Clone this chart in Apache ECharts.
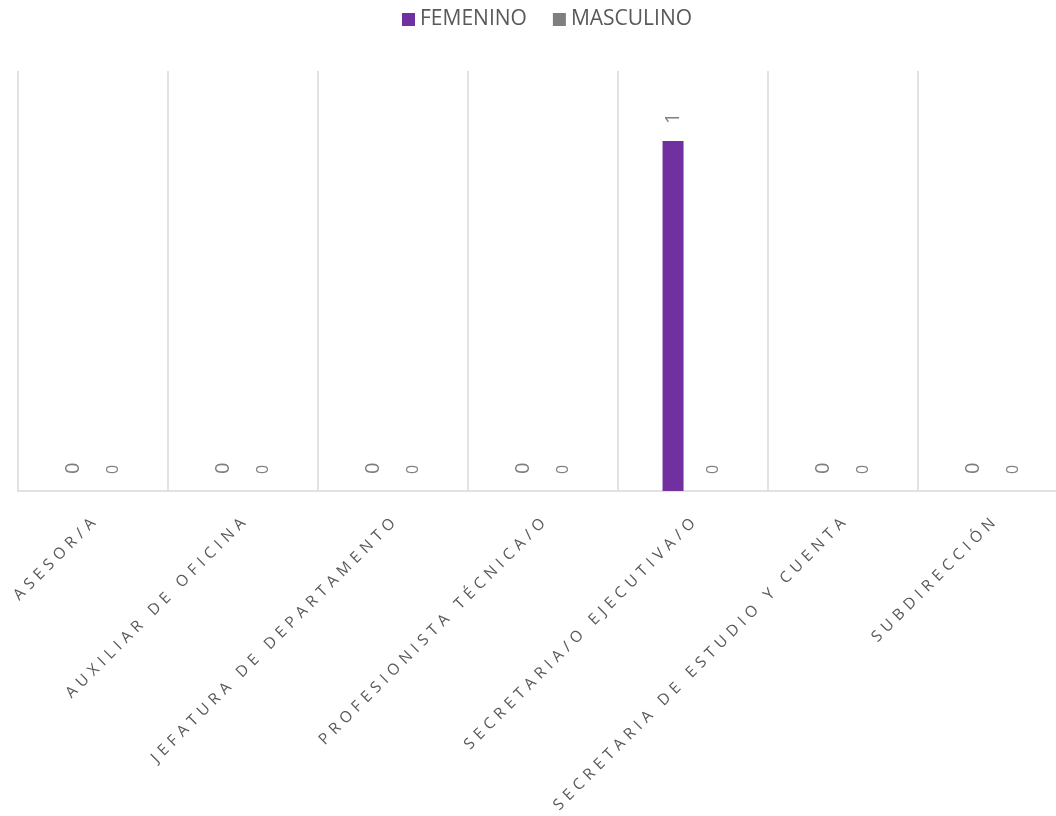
<!DOCTYPE html>
<html><head><meta charset="utf-8">
<script src="https://cdn.jsdelivr.net/npm/echarts@6/dist/echarts.min.js"></script>
<style>html,body{margin:0;padding:0;background:#fff;overflow:hidden}#c{width:1068px;height:816px}</style>
</head><body><div id="c"></div>
<script>
const categories = ['ASESOR/A','AUXILIAR DE OFICINA','JEFATURA DE DEPARTAMENTO','PROFESIONISTA TÉCNICA/O','SECRETARIA/O EJECUTIVA/O','SECRETARIA DE ESTUDIO Y CUENTA','SUBDIRECCIÓN'];
const femenino = [0,0,0,0,1,0,0];
const masculino = [0,0,0,0,0,0,0];
const seriesNames = ['FEMENINO','MASCULINO'];

const chart = echarts.init(document.getElementById('c'));
function lbl(size){
  return {show:true, position:'top', rotate:90, align:'left', verticalAlign:'middle', distance:17,
    color:'#7f7f7f', fontSize:size, fontFamily:'Open Sans'};
}
chart.setOption({
  animation:false,
  textStyle:{fontFamily:'Open Sans'},
  legend:{top:4, left:397, itemWidth:13, itemHeight:13, itemGap:26, icon:'rect',
    textStyle:{color:'#595959', fontSize:21, fontFamily:'Open Sans'}, data:seriesNames},
  grid:{left:18, right:0, top:71, bottom:325, containLabel:false},
  xAxis:{type:'category', data:categories, boundaryGap:true,
    axisLine:{show:true, lineStyle:{color:'#d9d9d9', width:1.5}},
    axisTick:{show:false},
    splitLine:{show:true, lineStyle:{color:'#d9d9d9', width:1.5}},
    axisLabel:{interval:0, rotate:45, color:'#595959', fontSize:15.5, fontFamily:'Open Sans', margin:30,
      formatter:v=>v.split('').join('\u2004')}},
  yAxis:{type:'value', min:0, max:1.2, show:false, splitLine:{show:false}},
  series:[
    {name:seriesNames[0], type:'bar', data:femenino, barWidth:21, barGap:'90%', itemStyle:{color:'#7030a0'}, label:lbl(20)},
    {name:seriesNames[1], type:'bar', data:masculino, barWidth:21, itemStyle:{color:'#7f7f7f'}, label:lbl(16)}
  ]
});
</script></body></html>
